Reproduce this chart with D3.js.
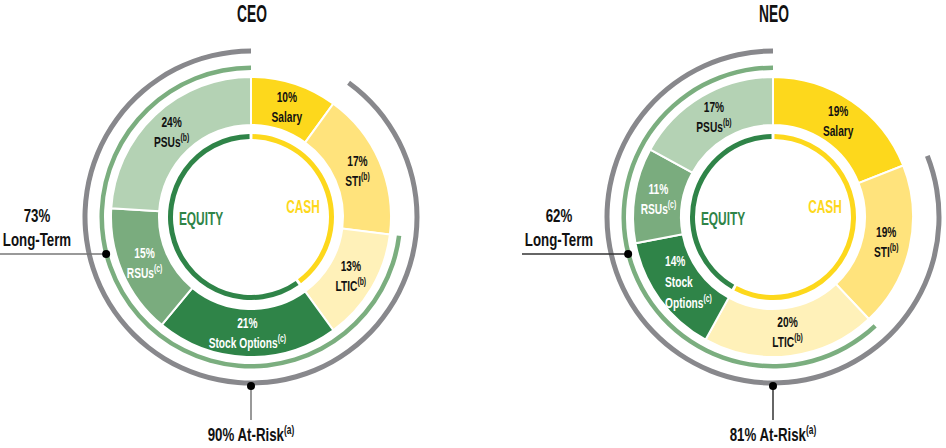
<!DOCTYPE html>
<meta charset="utf-8">
<style>
    body {
        margin: 0;
        background-color: #fff;
    }

    svg {
        font-family: "Liberation Sans", Arial, sans-serif;
        font-weight: bold;
    }

    .title {
        font-size: 23px;
    }

    .slice-label {
        font-size: 15px;
    }

    .group-label {
        font-size: 18px;
    }

    .callout {
        font-size: 19px;
    }
</style>

<body>
    <script src="https://cdn.jsdelivr.net/npm/d3@7"></script>
    <script>
        // chart data
        var charts = ["CEO", "NEO"];
        var components = ["Salary", "STI", "LTIC", "Stock Options", "RSUs", "PSUs"];
        var notes = ["", "b", "b", "c", "c", "b"];
        var ceoValues = [10, 17, 13, 21, 15, 24];
        var neoValues = [19, 19, 20, 14, 11, 17];
        var longTerm = [73, 62];
        var atRisk = [90, 81];
        var groups = ["CASH", "EQUITY"];   // cash = first three components, equity = last three

        var values = [ceoValues, neoValues];

        var width = 946,
            height = 448,
            centers = [{ x: 251, y: 217 }, { x: 773, y: 217 }];

        var colors = ["#fdd81c", "#ffe37c", "#fff1b9", "#2f8448", "#7aac7e", "#b4d2b4"];
        var textColors = ["#111", "#111", "#111", "#fff", "#fff", "#111"];
        var cashColor = "#fdd81c",
            equityColor = "#2f8448",
            longTermColor = "#7bae7f",
            atRiskColor = "#88888c";

        var svg = d3.select("body").append("svg")
            .attr("width", width)
            .attr("height", height);

        // no condensed face is installed, so squeeze the glyphs horizontally
        function narrowText(parent, x, y, cls, sx, anchor) {
            return parent.append("text")
                .attr("class", cls)
                .attr("transform", "translate(" + x + "," + y + ") scale(" + sx + ",1)")
                .attr("text-anchor", anchor || "middle");
        }

        var pie = d3.pie().sort(null).startAngle(0).endAngle(2 * Math.PI);

        var mainArc = d3.arc().innerRadius(92).outerRadius(140);
        var labelArc = d3.arc().innerRadius(116).outerRadius(116);
        var wrapArc = d3.arc().innerRadius(110).outerRadius(110);
        var innerRing = d3.arc().innerRadius(78).outerRadius(83);
        var longRing = d3.arc().innerRadius(147).outerRadius(151.5);
        var riskRing = d3.arc().innerRadius(163.5).outerRadius(168.5);

        charts.forEach(function(name, ci) {
            var c = centers[ci];
            var slices = pie(values[ci]);

            var g = svg.append("g")
                .attr("transform", "translate(" + c.x + "," + c.y + ")");

            // title
            narrowText(svg, c.x + 1, 22, "title", 0.6)
                .attr("fill", "#111")
                .text(name);

            // outer ring: at-risk (everything but salary)
            g.append("path")
                .attr("fill", atRiskColor)
                .attr("d", riskRing({ startAngle: slices[1].startAngle, endAngle: 2 * Math.PI }));

            // long-term ring (LTIC onward)
            g.append("path")
                .attr("fill", longTermColor)
                .attr("d", longRing({ startAngle: slices[2].startAngle, endAngle: 2 * Math.PI }));

            // main donut
            g.selectAll(".slice")
                .data(slices)
                .enter().append("path")
                .attr("class", "slice")
                .attr("fill", function(d, i) { return colors[i]; })
                .attr("stroke", "#fff")
                .attr("stroke-width", 2)
                .attr("d", mainArc);

            // inner cash / equity ring
            var gap = 0.018;
            var cashEnd = slices[2].endAngle;
            g.append("path")
                .attr("fill", cashColor)
                .attr("d", innerRing({ startAngle: gap, endAngle: cashEnd - gap }));
            g.append("path")
                .attr("fill", equityColor)
                .attr("d", innerRing({ startAngle: cashEnd + gap, endAngle: 2 * Math.PI - gap }));

            narrowText(g, 52, -4, "group-label", 0.66)
                .attr("fill", cashColor)
                .text(groups[0]);
            narrowText(g, -50, 8, "group-label", 0.66)
                .attr("fill", equityColor)
                .text(groups[1]);

            // slice labels
            slices.forEach(function(d, i) {
                var span = d.endAngle - d.startAngle;
                var words = components[i].split(" ");
                var lines = [d.data + "%"];
                var wrap = words.length > 1 && span < 1;
                if (wrap) {
                    lines = lines.concat(words);
                } else {
                    lines.push(components[i]);
                }
                var pos = (wrap ? wrapArc : labelArc).centroid(d);
                var lh = wrap ? 21 : 20;
                var y0 = pos[1] - (lines.length - 1) * lh / 2 + 5;
                // narrow slices: stack the words flush left
                var lx = wrap ? pos[0] - 19 : pos[0];
                lines.forEach(function(line, li) {
                    var t = narrowText(g, lx, y0 + li * lh, "slice-label", 0.68, wrap ? "start" : "middle")
                        .attr("fill", textColors[i]);
                    t.append("tspan").text(line);
                    if (li == lines.length - 1 && notes[i]) {
                        t.append("tspan")
                            .attr("font-size", "10px")
                            .attr("dy", -6)
                            .text("(" + notes[i] + ")");
                    }
                });
            });

            // long-term callout
            var lineColor = ci == 0 ? "#777" : "#333";
            var dy = 37;
            var dx = -Math.sqrt(149.5 * 149.5 - dy * dy);
            g.append("line")
                .attr("x1", -251).attr("y1", dy)
                .attr("x2", dx).attr("y2", dy)
                .attr("stroke", lineColor)
                .attr("stroke-width", 1.5);
            g.append("circle")
                .attr("cx", dx).attr("cy", dy)
                .attr("r", 4)
                .attr("fill", "#000");
            narrowText(g, -214, 5, "callout", 0.7)
                .attr("fill", "#111")
                .text(longTerm[ci] + "%");
            narrowText(g, -214, 29, "callout", 0.7)
                .attr("fill", "#111")
                .text("Long-Term");

            // at-risk callout
            g.append("line")
                .attr("x1", 0).attr("y1", 169)
                .attr("x2", 0).attr("y2", 203)
                .attr("stroke", lineColor)
                .attr("stroke-width", 1.5);
            g.append("circle")
                .attr("cx", 0).attr("cy", 169)
                .attr("r", 4)
                .attr("fill", "#000");
            var ar = narrowText(g, 0, 224, "callout", 0.7)
                .attr("fill", "#111");
            ar.append("tspan").text(atRisk[ci] + "% At-Risk");
            ar.append("tspan")
                .attr("font-size", "12px")
                .attr("dy", -7)
                .text("(a)");
        });
    </script>
</body>

</html>
